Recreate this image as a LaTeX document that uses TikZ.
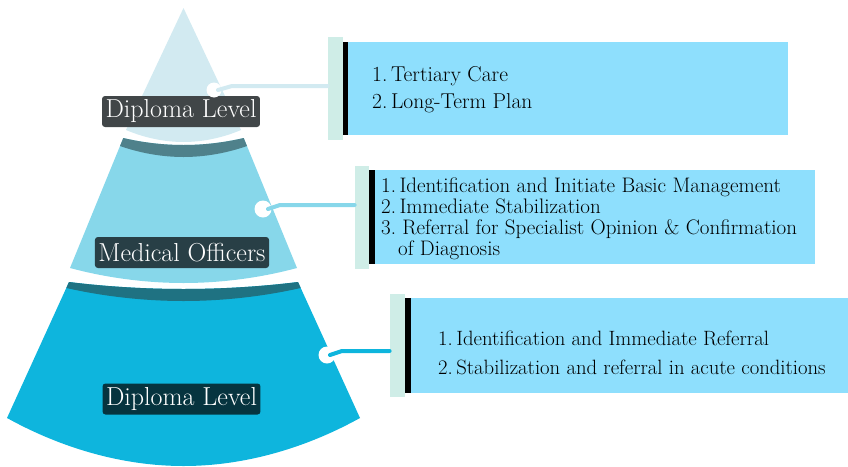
\documentclass[tikz,border=0pt]{standalone}
\usetikzlibrary{positioning}

\definecolor{toptone}{HTML}{D2EAF1}
\definecolor{midtone}{HTML}{87D7EA}
\definecolor{midshade}{HTML}{4F818B}
\definecolor{lowtone}{HTML}{0EB5DD}
\definecolor{lowshade}{HTML}{1F7282}
\definecolor{labelone}{HTML}{414648}
\definecolor{labeltwo}{HTML}{283F46}
\definecolor{labelthree}{HTML}{06343F}
\definecolor{noteblue}{HTML}{8EDFFD}
\definecolor{mint}{HTML}{CFEDE7}

\begin{document}
\begin{tikzpicture}[x=1pt,y=-1pt,
  levelbox/.style={rounded corners=3pt, text=white, font=\fontsize{26}{28}\selectfont, minimum height=31pt, inner xsep=3.5pt, inner ysep=0pt},
  notebox/.style={fill=noteblue, anchor=north west, inner sep=0pt, minimum width=440pt, minimum height=94pt},
  mintbar/.style={fill=mint, inner sep=0pt, minimum width=15pt, minimum height=103pt},
  joint/.style={circle, fill=white, inner sep=0pt, minimum size=17pt},
  notetext/.style={anchor=west, align=left, text=black, inner sep=0pt},
  link/.style={line width=4pt, line cap=round, line join=round}]
\useasboundingbox (0,0) rectangle (848,466);

% pyramid
\fill[toptone] (183.5,8) -- (241,130) parabola bend (183.5,142) (126,130) -- cycle;
\fill[midtone] (123.3,138) parabola bend (183.5,145) (243.7,138) -- (297,268) parabola bend (183.5,283) (70,268) -- cycle;
\fill[midshade] (123.3,138) parabola bend (183.5,145) (243.7,138) -- (247,146) parabola bend (183.5,157) (120,146) -- cycle;
\fill[lowtone] (69,282) parabola bend (183.5,289) (298,282) -- (360,418) parabola bend (183.5,466) (7,418) -- cycle;
\fill[lowshade] (69,282) parabola bend (183.5,289) (298,282) -- (300.7,288) parabola bend (183.5,301) (66.3,288) -- cycle;

\node[levelbox, fill=labelone] (lvl1) at (181,111.5) {Diploma Level};
\node[levelbox, fill=labeltwo] (lvl2) at (182,252.5) {Medical Officers};
\node[levelbox, fill=labelthree] (lvl3) at (181.5,399) {Diploma Level};

% notes
\node[notebox, minimum height=93pt] (note1) at (348,42) {};
\node[notebox] (note2) at (375,170) {};
\node[notebox, minimum width=437pt, minimum height=95pt] (note3) at (411,298) {};
\node[mintbar, left=5pt of note1] (mint1) {};
\node[mintbar, left=6pt of note2, minimum width=14pt] (mint2) {};
\node[mintbar, left=6pt of note3] (mint3) {};
\draw[line width=5pt] ([xshift=-2.5pt]note1.north west) -- ([xshift=-2.5pt]note1.south west);
\draw[line width=6pt] ([xshift=-3pt]note2.north west) -- ([xshift=-3pt]note2.south west);
\draw[line width=6pt] ([xshift=-3pt]note3.north west) -- ([xshift=-3pt]note3.south west);

\node[notetext, font=\fontsize{21.5}{27}\selectfont] (txt1) at ([xshift=24pt,yshift=-1pt]note1.west) {1.\,Tertiary Care\\2.\,Long-Term Plan};
\node[notetext, font=\fontsize{21}{21}\selectfont] (txt2) at ([xshift=6pt,yshift=-1.5pt]note2.west) {1.\,Identification and Initiate Basic Management\\2.\,Immediate Stabilization\\3.\ Referral for Specialist Opinion \& Confirmation\\\hspace*{17pt}of Diagnosis};
\node[notetext, font=\fontsize{20.7}{29}\selectfont] (txt3) at ([xshift=27pt,yshift=-7pt]note3.west) {1.\,Identification and Immediate Referral\\2.\,Stabilization and referral in acute conditions};

% connectors
\node[joint, minimum size=15pt] (joint1) at (214,90) {};
\node[joint] (joint2) at (263,209) {};
\node[joint] (joint3) at (327,355) {};
\draw[link, toptone] ([xshift=4pt]joint1.center) -- ++(14,-4) coordinate (k1) -- (k1 -| mint1.west);
\draw[link, midtone] ([xshift=5pt]joint2.center) -- ++(12,-4) coordinate (k2) -- (k2 -| mint2.west);
\draw[link, lowtone] ([xshift=3pt]joint3.center) -- ++(12,-4) coordinate (k3) -- (k3 -| mint3.west);
\end{tikzpicture}
\end{document}
